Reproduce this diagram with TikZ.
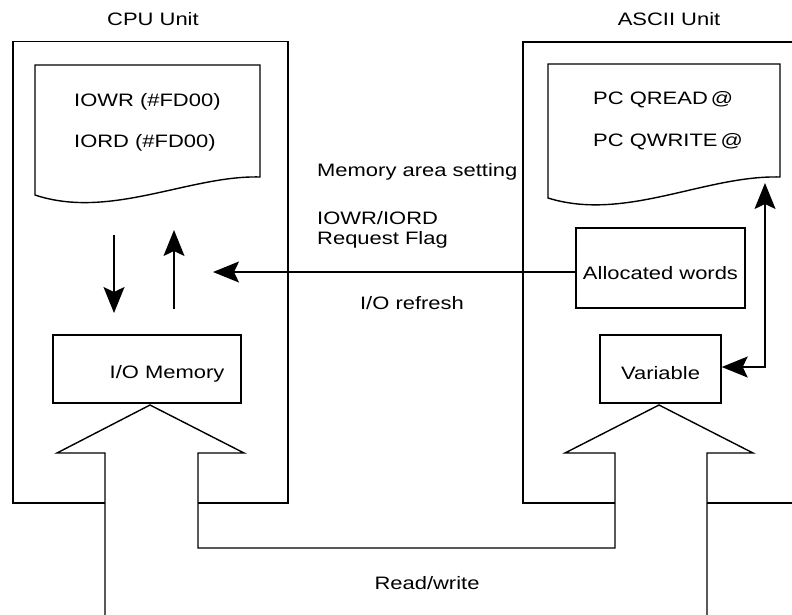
\documentclass[tikz,border=0pt]{standalone}
\usepackage{fontspec}
\setmainfont{Liberation Sans}[FakeStretch=1.22]
\usetikzlibrary{arrows.meta}
\begin{document}
\begin{tikzpicture}[x=1pt,y=-1pt,
  every node/.style={font=\fontsize{18}{22}\selectfont, inner sep=0pt},
  ln/.style={line width=1.4pt, line join=miter},
  arr/.style={ln, -{Stealth[length=26pt,width=21pt,inset=5pt]}},
  dbl/.style={ln, {Stealth[length=26pt,width=21pt,inset=5pt]}-{Stealth[length=26pt,width=21pt,inset=5pt]}},
  boxn/.style={draw, ln, rectangle},
  lbl/.style={anchor=west}
]
\useasboundingbox (0,0) rectangle (792,614);

% unit outlines
\draw[ln] (105,503) -- (13,503) -- (13,41.5) -- (288,41.5) -- (288,503) -- (198,503);
\draw[ln] (615,503) -- (523,503) -- (523,42) -- (800,42);
\draw[ln] (707,503) -- (800,503);

% big outline arrows joined
\draw[ln] (105,620) -- (105,453) -- (57,453) -- (150,405) -- (244,453) -- (198,453)
  -- (198,548) -- (615,548) -- (615,453) -- (565,453) -- (659,405) -- (753,453)
  -- (707,453) -- (707,620);

% documents
\draw[ln] (35,65) -- (260,65) -- (260,177) .. controls (190,175) and (110,220) .. (35,195) -- cycle;
\draw[ln] (548,64) -- (780,64) -- (780,177) .. controls (705,175) and (625,222) .. (548,198) -- cycle;

% titles
\node (cpu) at (153,19) {CPU Unit};
\node (ascii) at (669,19) {ASCII Unit};

% document texts
\node[lbl] (iowr) at (74,102) {IOWR (\#FD00)};
\node[lbl] (iord) at (74,143) {IORD (\#FD00)};
\node[lbl] (qread) at (593,100) {PC QREAD\,@};
\node[lbl] (qwrite) at (593,142) {PC QWRITE\,@};

% middle texts
\node[lbl] (mas) at (317,172) {Memory area setting};
\node[lbl] (flag1) at (317,218) {IOWR/IORD};
\node[lbl] (flag2) at (317,240) {Request Flag};
\node (refresh) at (412,303) {I/O refresh};
\node (rw) at (427,583) {Read/write};

% boxes
\node[boxn, minimum width=169pt, minimum height=80pt] (alloc) at (660.5,268) {};
\node at (660.5,273) {Allocated words};
\node[boxn, minimum width=121pt, minimum height=68pt] (var) at (660.5,369) {};
\node at (660.5,373) {Variable};
\node[boxn, minimum width=188pt, minimum height=68pt] (iomem) at (147,369) {};
\node (iomemtxt) at (167,374) {I/O Memory};

% arrows
\coordinate (dtop) at (114,235);
\coordinate (dbot) at (114,313);
\coordinate (ubot) at (174,309);
\coordinate (utop) at (174,230);
\coordinate (htip) at (213,272);
\coordinate (rtop) at (765,183);
\draw[arr] (dtop) -- (dbot);
\draw[arr] (ubot) -- (utop);
\draw[arr] ([yshift=-4pt]alloc.west) -- (htip);
\draw[dbl] (rtop) |- ([yshift=2pt]var.east);
\end{tikzpicture}
\end{document}
